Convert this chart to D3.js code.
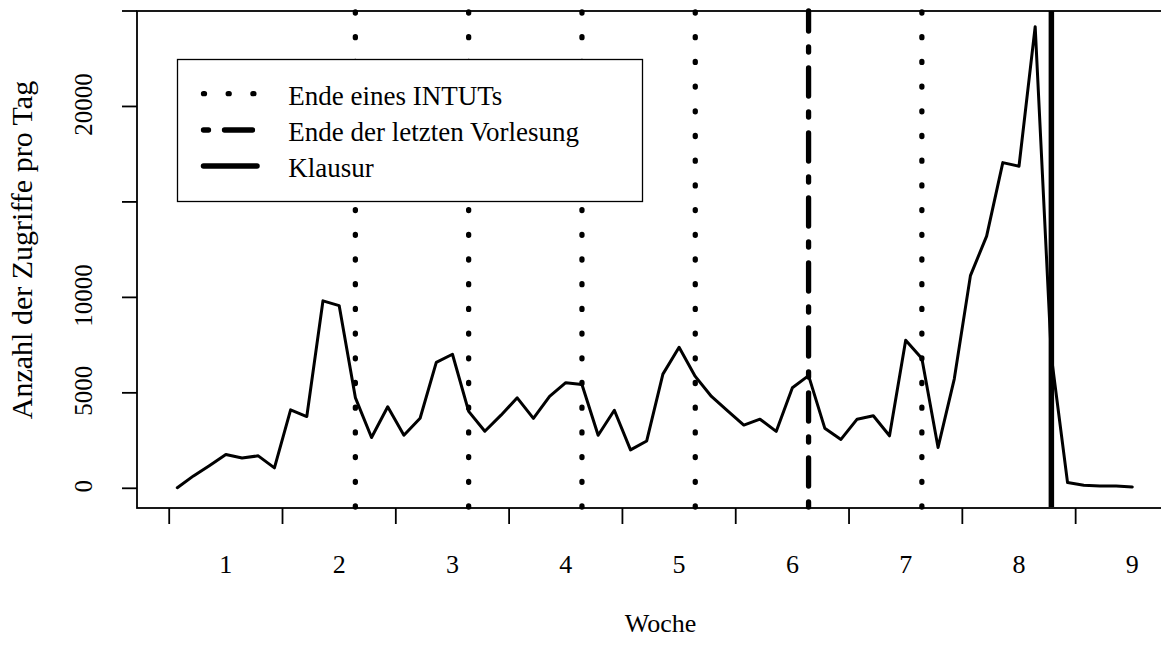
<!DOCTYPE html>
<html>
<head>
<meta charset="utf-8">
<script src="https://cdn.jsdelivr.net/npm/d3@7"></script>
<style>
  body { margin: 0; background: #fff; }
  svg text { font-family: "Liberation Serif", "Times New Roman", serif; fill: #000; }
</style>
</head>
<body>
<div id="chart"></div>
<script>
// Zugriffe pro Tag (Tag 1 .. 60)
var zugriffe = [30, 650, 1200, 1770, 1590, 1700, 1070, 4110, 3760, 9820,
    9570, 4750, 2660, 4270, 2780, 3670, 6600, 7020, 4030, 2990,
    3830, 4740, 3660, 4810, 5530, 5440, 2780, 4090, 2010, 2480,
    5980, 7390, 5860, 4810, 4060, 3310, 3620, 2980, 5270, 5900,
    3150, 2560, 3620, 3800, 2750, 7760, 6800, 2140, 5720, 11140,
    13210, 17060, 16870, 24180, 6900, 300, 160, 120, 120, 70];

var wochenTicks = [0.5, 7.5, 14.5, 21.5, 28.5, 35.5, 42.5, 49.5, 56.5];
var wochenLabelPos = [4, 11, 18, 25, 32, 39, 46, 53, 60];
var wochenLabels = ["1", "2", "3", "4", "5", "6", "7", "8", "9"];
var yTicks = [0, 5000, 10000, 15000, 20000, 25000];
var yLabels = [0, 5000, 10000, 20000];

var intutEnden = [12, 19, 26, 33, 47];
var letzteVorlesung = [40];
var klausur = [55];

var legendTexte = ["Ende eines INTUTs", "Ende der letzten Vorlesung", "Klausur"];

var W = 1161, H = 646;
var pLeft = 137, pTop = 11, pRight = 1184, pBottom = 508;
var fontSize = "26px";

var svg = d3.select("#chart").append("svg")
    .attr("width", W)
    .attr("height", H);

var x = d3.scaleLinear().domain([1, 60]).range([177.3, 1132.3]);
var y = d3.scaleLinear().domain([0, 25000]).range([488.3, 11]);

// Datenlinie
var line = d3.line()
    .x(function(d, i) { return x(i + 1); })
    .y(function(d) { return y(d); });

svg.append("path")
    .datum(zugriffe)
    .attr("d", line)
    .attr("fill", "none")
    .attr("stroke", "#000")
    .attr("stroke-width", 3)
    .attr("stroke-linejoin", "round")
    .attr("stroke-linecap", "round");

// senkrechte Linien
var dotted = "1 23.7";
var dotdash = "5 16 28 16";

function vlinien(arr, dash, width, cap) {
    svg.append("g").selectAll("line")
        .data(arr)
        .enter().append("line")
        .attr("x1", function(d) { return x(d); })
        .attr("x2", function(d) { return x(d); })
        .attr("y1", pBottom - 1)
        .attr("y2", pTop)
        .attr("stroke", "#000")
        .attr("stroke-width", width)
        .attr("stroke-linecap", cap)
        .attr("stroke-dasharray", dash);
}
vlinien(intutEnden, dotted, 5.3, "round");
vlinien(letzteVorlesung, dotdash, 5.3, "round");
vlinien(klausur, null, 5.5, "butt");

// Rahmen
svg.append("rect")
    .attr("x", pLeft)
    .attr("y", pTop)
    .attr("width", pRight - pLeft)
    .attr("height", pBottom - pTop)
    .attr("fill", "none")
    .attr("stroke", "#000")
    .attr("stroke-width", 1.8);

// x-Achse
var xAxis = svg.append("g");
xAxis.selectAll("line")
    .data(wochenTicks)
    .enter().append("line")
    .attr("x1", function(d) { return x(d); })
    .attr("x2", function(d) { return x(d); })
    .attr("y1", pBottom)
    .attr("y2", pBottom + 16)
    .attr("stroke", "#000")
    .attr("stroke-width", 1.8);
xAxis.selectAll("text")
    .data(wochenLabels)
    .enter().append("text")
    .attr("x", function(d, i) { return x(wochenLabelPos[i]); })
    .attr("y", 572.7)
    .attr("text-anchor", "middle")
    .style("font-size", fontSize)
    .text(function(d) { return d; });

svg.append("text")
    .attr("x", (pLeft + pRight) / 2)
    .attr("y", 632)
    .attr("text-anchor", "middle")
    .style("font-size", fontSize)
    .text("Woche");

// y-Achse
var yAxis = svg.append("g");
yAxis.selectAll("line")
    .data(yTicks)
    .enter().append("line")
    .attr("x1", pLeft - 15)
    .attr("x2", pLeft)
    .attr("y1", function(d) { return y(d); })
    .attr("y2", function(d) { return y(d); })
    .attr("stroke", "#000")
    .attr("stroke-width", 1.8);
yAxis.selectAll("text")
    .data(yLabels)
    .enter().append("text")
    .attr("transform", function(d) { return "translate(92," + (y(d) - 2) + ") rotate(-90)"; })
    .attr("text-anchor", "middle")
    .style("font-size", "25px")
    .text(function(d) { return d; });

svg.append("text")
    .attr("transform", "translate(32,250) rotate(-90)")
    .attr("text-anchor", "middle")
    .style("font-size", "30px")
    .text("Anzahl der Zugriffe pro Tag");

// Legende
var legend = svg.append("g");
legend.append("rect")
    .attr("x", 177.5)
    .attr("y", 59.5)
    .attr("width", 465)
    .attr("height", 142)
    .attr("fill", "#fff")
    .attr("stroke", "#000")
    .attr("stroke-width", 1.3);

var legendStil = [
    { dash: dotted, width: 5.3, cap: "round" },
    { dash: dotdash, width: 5.3, cap: "round" },
    { dash: null, width: 5.5, cap: "round" }
];
var rowY = [93.7, 130, 166];

legendTexte.forEach(function(t, i) {
    legend.append("line")
        .attr("x1", 203.5)
        .attr("x2", 257)
        .attr("y1", rowY[i])
        .attr("y2", rowY[i])
        .attr("stroke", "#000")
        .attr("stroke-width", legendStil[i].width)
        .attr("stroke-linecap", legendStil[i].cap)
        .attr("stroke-dasharray", legendStil[i].dash);
    legend.append("text")
        .attr("x", 288.3)
        .attr("y", rowY[i] + 11)
        .style("font-size", "27px")
        .text(t);
});
</script>
</body>
</html>
